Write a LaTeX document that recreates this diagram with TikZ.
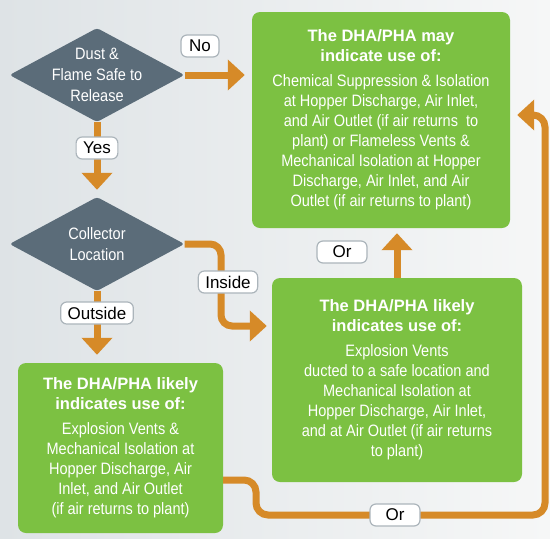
\documentclass[tikz,border=0pt]{standalone}
\usepackage{fontspec}
\setmainfont{Liberation Sans}
\newfontfamily\condfont{Liberation Sans}[FakeStretch = 0.88]
\usepackage{tikz}
\usetikzlibrary{shapes.geometric}
\usetikzlibrary{arrows.meta}

\definecolor{boxgreen}{RGB}{124,193,66}
\definecolor{slate}{RGB}{91,108,121}
\definecolor{flow}{RGB}{214,138,40}
\definecolor{tagline}{RGB}{172,181,187}
\definecolor{bgleft}{RGB}{222,227,230}
\definecolor{bgright}{RGB}{246,247,247}

\tikzset{
	decision/.style = {diamond, fill = slate, draw = none, minimum width = 175pt, minimum height = 94pt, inner sep = 0pt, rounded corners = 3pt},
	decisiontext/.style = {draw = none, text = white, align = center, font = \condfont\fontsize{16.5}{21}\selectfont},
	outcome/.style = {fill = boxgreen, draw = none, rounded corners = 8pt, text = white, align = center, inner sep = 0pt, font = \condfont\fontsize{16.5}{20}\selectfont},
	tag/.style = {fill = white, draw = tagline, line width = 1.2pt, rounded corners = 6pt, inner xsep = 7pt, inner ysep = 2pt, minimum height = 22pt, minimum width = 38pt, font = \fontsize{17}{20}\selectfont},
	flowline/.style = {draw = flow, line width = 7pt, -{Triangle[width = 30pt, length = 17pt]}}
}
\newcommand{\headfont}{\normalfont\bfseries}

\begin{document}
\begin{tikzpicture}[x = 1pt, y = -1pt]
		% Background
		\shade [left color = bgleft, right color = bgright] (0,0) rectangle (550,539);
		% First question
		\node [decision] (dust) at (97,75) {};
		\node [decisiontext] (dusttext) at (dust) {Dust \&\\ Flame Safe to\\ Release};
		% Second question
		\node [decision] (collector) at (97,244) {};
		\node [decisiontext] (collectortext) at (collector) {Collector\\ Location};
		% Top outcome
		\node [outcome, minimum width = 258pt, minimum height = 216pt] (may) at (381,120) {{\headfont The DHA/PHA may}\\ {\headfont indicate use of:}\\[5pt] Chemical Suppression \& Isolation\\ at Hopper Discharge, Air Inlet,\\ and Air Outlet (if air returns~ to\\ plant) or Flameless Vents \&\\ Mechanical Isolation at Hopper\\ Discharge, Air Inlet, and Air\\ Outlet (if air returns to plant)};
		% Right outcome
		\node [outcome, minimum width = 250pt, minimum height = 204pt] (likely) at (397,380) {{\headfont The DHA/PHA likely}\\ {\headfont indicates use of:}\\[5pt] Explosion Vents\\ ducted to a safe location and\\ Mechanical Isolation at\\ Hopper Discharge, Air Inlet,\\ and at Air Outlet (if air returns\\ to plant)};
		% Left outcome
		\node [outcome, minimum width = 205pt, minimum height = 170pt] (vents) at (120.5,448) {{\headfont The DHA/PHA likely}\\ {\headfont indicates use of:}\\[5pt] Explosion Vents \&\\ Mechanical Isolation at\\ Hopper Discharge, Air\\ Inlet, and Air Outlet\\ (if air returns to plant)};
		% No / Yes arrows
		\draw [flowline] (dust.east) -- ([xshift = -7pt]dust.east -| may.west);
		\draw [flowline] (dust.south) -- ([yshift = 7pt]collector.north);
		% Inside / Outside arrows
		\coordinate (insidebend) at (221,326);
		\draw [flowline, rounded corners = 11pt] (collector.east) -| (insidebend) -- ([xshift = -5pt]insidebend -| likely.west);
		\draw [flowline] (collector.south) -- ([yshift = 8pt]collector.south |- vents.north);
		% Or arrows
		\draw [flowline] (likely.north) -- ([yshift = -5pt]likely.north |- may.south);
		\coordinate (loopA) at (256,480);
		\coordinate (loopB) at (256,515);
		\coordinate (loopC) at (545,515);
		\coordinate (loopD) at (545,115);
		\draw [flowline, rounded corners = 12pt] (vents.east |- loopA) -- (loopA) -- (loopB) -- (loopC) -- (loopD) -- ([xshift = 7pt]may.east |- loopD);
		% Labels
		\node [tag] (notag) at (200,46) {No};
		\node [tag] (yestag) at (97,148) {Yes};
		\node [tag] (insidetag) at (228,282) {Inside};
		\node [tag] (outsidetag) at (97,313) {Outside};
		\node [tag, minimum width = 50pt] (ortag) at (342,252) {Or};
		\node [tag, minimum width = 50pt] (loopor) at (395,515) {Or};
\end{tikzpicture}
\end{document}
